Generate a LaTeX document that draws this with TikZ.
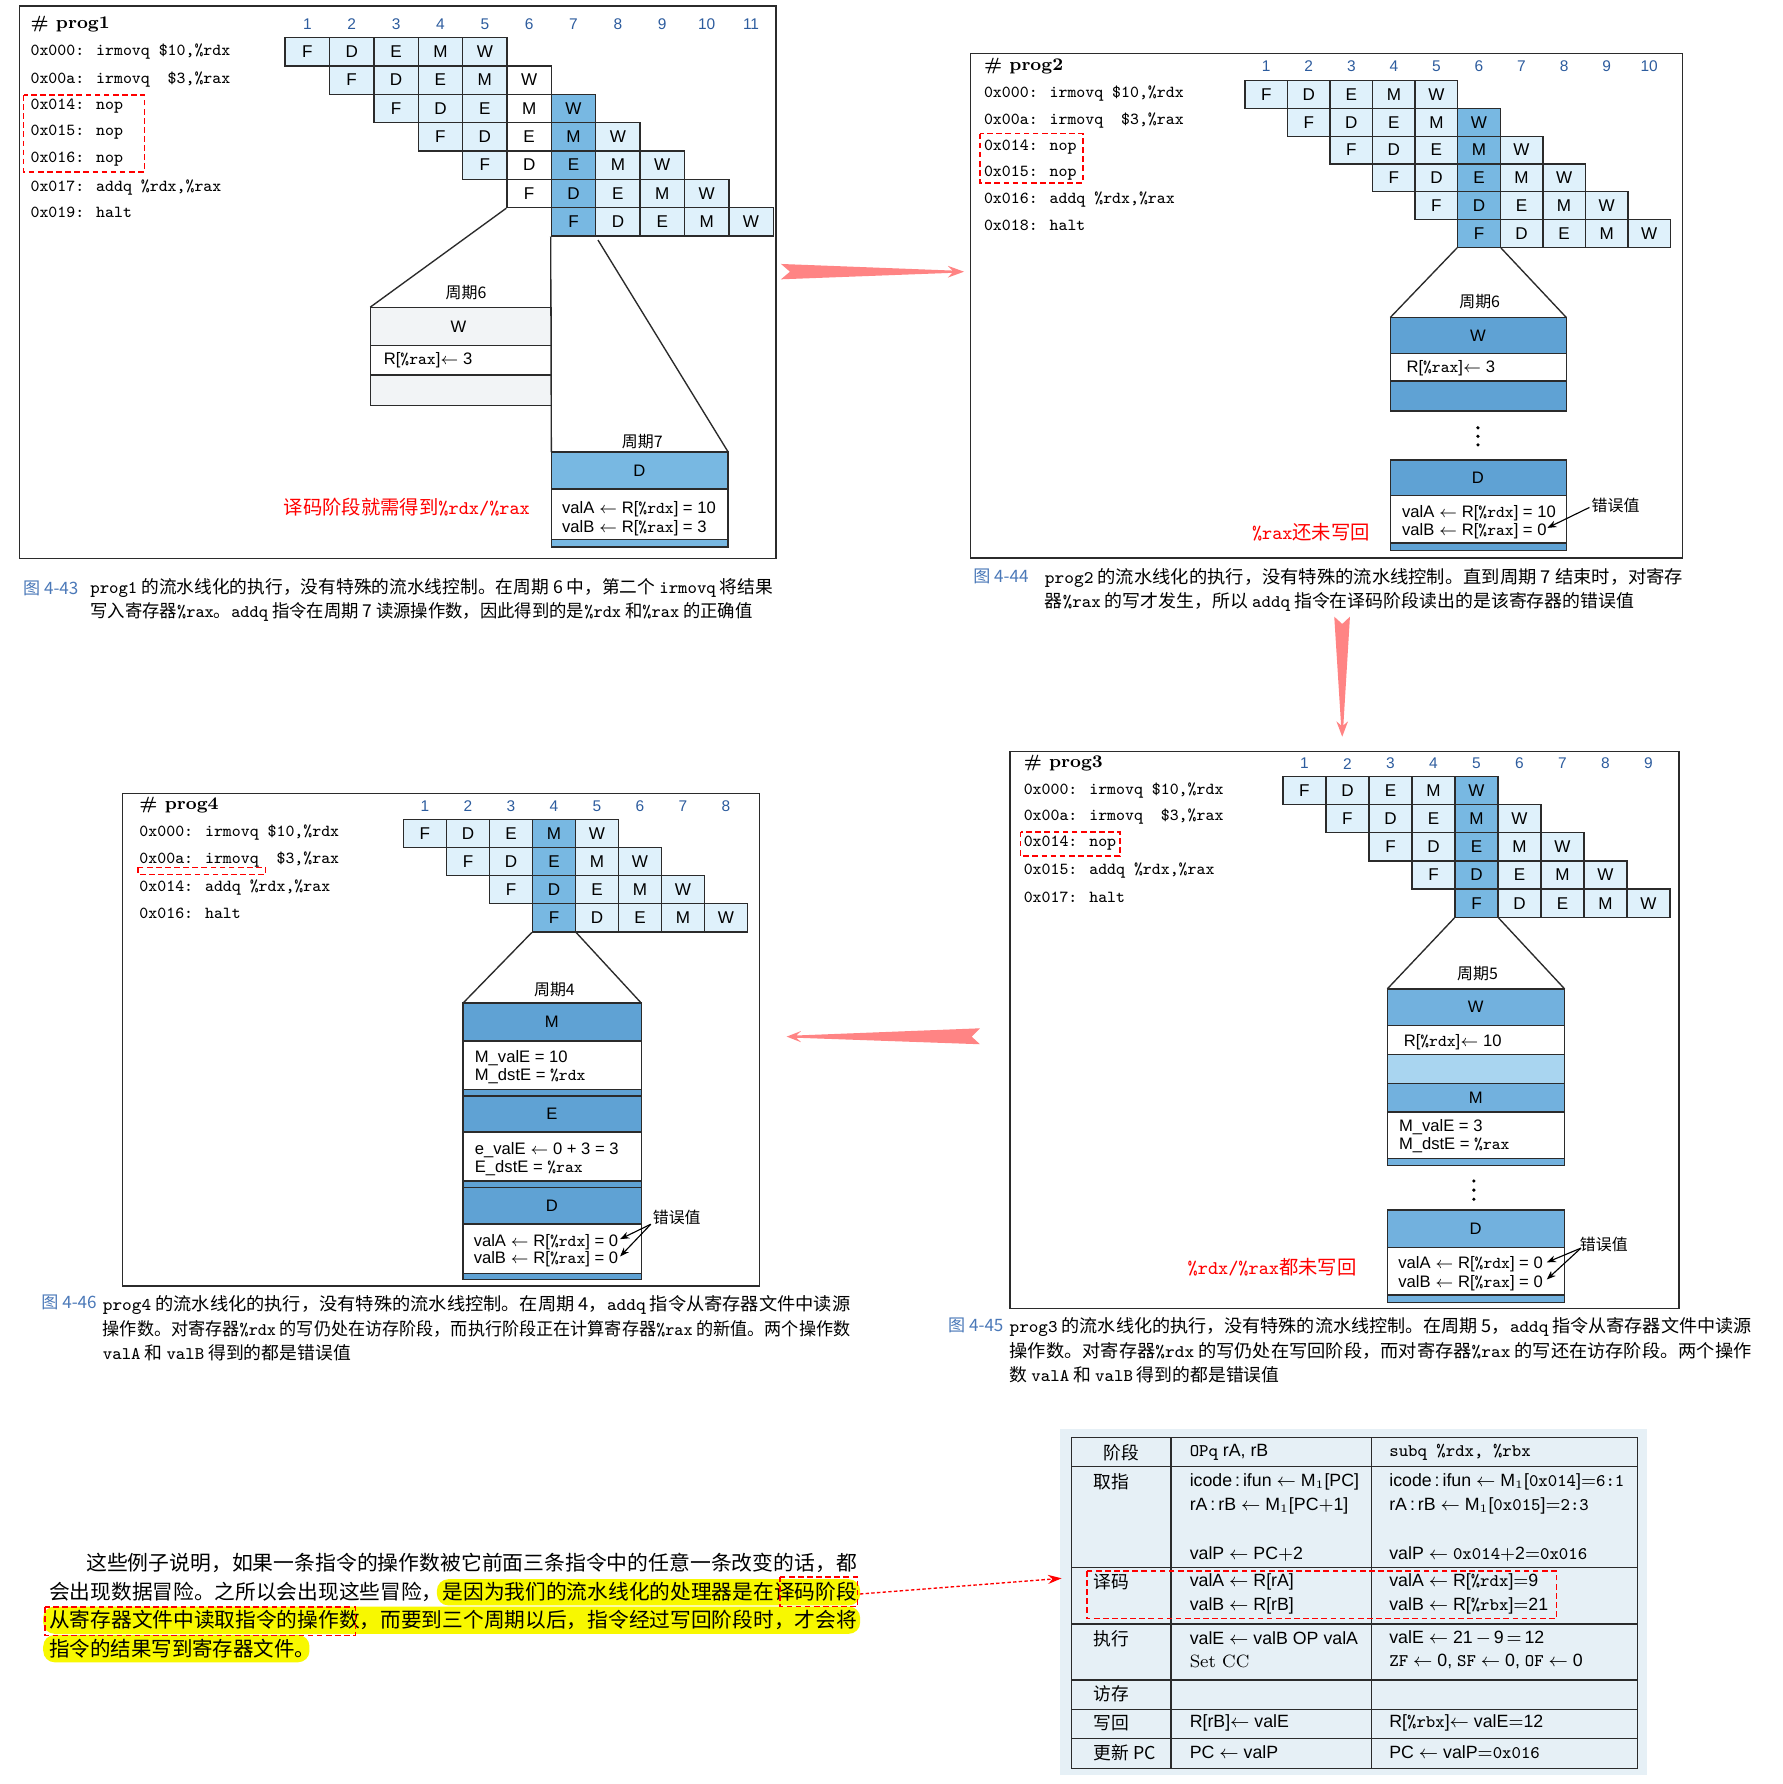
\documentclass[tikz,border=0pt]{standalone}
\usepackage{fontspec}
\usepackage{graphicx}
\setsansfont{Liberation Sans}
\newfontfamily\cjk{Noto Sans CJK SC}
\usetikzlibrary{arrows.meta}
\definecolor{cellblue}{HTML}{DFF1FB}
\definecolor{hiblue}{HTML}{78B8E2}
\definecolor{bandblue}{HTML}{5FA2D4}
\definecolor{bandmid}{HTML}{72B1DE}
\definecolor{bandlight}{HTML}{A9D5F0}
\definecolor{palegray}{HTML}{F2F4F6}
\definecolor{linec}{HTML}{2B2B2B}
\definecolor{numblue}{HTML}{2D5C9E}
\definecolor{figblue}{HTML}{4A78B8}
\definecolor{arrowpink}{HTML}{FF8484}
\definecolor{tablebg}{HTML}{E6F0F6}
\definecolor{hlyellow}{HTML}{F8F800}
\tikzset{
 cell/.style={draw=linec, line width=0.6pt, inner sep=0pt, font=\sffamily\fontsize{7.5}{9}\selectfont},
 cyc/.style={inner sep=0pt, font=\sffamily\fontsize{6.8}{8}\selectfont, text=numblue},
 code/.style={anchor=west, inner sep=0pt, font=\ttfamily\fontsize{7.4}{9}\selectfont},
 ptitle/.style={anchor=west, inner sep=0pt, font=\rmfamily\bfseries\fontsize{7.8}{9}\selectfont},
 frame/.style={draw=linec, line width=0.6pt},
 bline/.style={draw=linec, line width=0.6pt},
 lbl/.style={inner sep=0pt, font=\sffamily\fontsize{7.3}{9}\selectfont},
 lblw/.style={lbl, anchor=west},
 cyclbl/.style={inner sep=0pt, font=\cjk\fontsize{7}{8}\selectfont},
 errlbl/.style={inner sep=0pt, font=\cjk\fontsize{7}{8}\selectfont},
 redtxt/.style={anchor=west, inner sep=0pt, text=red, font=\cjk\fontsize{8.5}{10}\selectfont},
 reddash/.style={draw=red, line width=0.7pt, dash pattern=on 2.5pt off 1.5pt},
 figno/.style={anchor=west, inner sep=0pt, text=figblue, font=\cjk\fontsize{7.5}{9}\selectfont},
 capline/.style={anchor=west, inner sep=0pt, font=\cjk\fontsize{7.8}{9}\selectfont},
 para/.style={anchor=west, inner sep=0pt, font=\cjk\fontsize{9}{11}\selectfont},
 errarrow/.style={line width=0.5pt, -{Stealth[length=4pt,width=3pt]}},
 tt/.style={anchor=west, inner sep=0pt, font=\sffamily\fontsize{7.8}{9}\selectfont},
 tc/.style={anchor=west, inner sep=0pt, font=\cjk\fontsize{7.8}{9}\selectfont},
 tline/.style={draw=linec, line width=0.6pt},
}
\newcommand\pipegrid[8]{%
 \foreach \r in {1,...,#6}{%
  \foreach \s [count=\k] in {F,D,E,M,W}{%
   \pgfmathtruncatemacro\cc{\r+\k-1}%
   \ifnum\cc=#7\relax\def\fc{hiblue}\else\ifnum\cc=#8\relax\def\fc{white}\else\def\fc{cellblue}\fi\fi
   \node[cell,fill=\fc,minimum width=#4*0.5pt,minimum height=#5*0.5pt] (#1-\r-\cc) at ({#2+(\cc-0.5)*#4},{#3+(\r-0.5)*#5}) {\s};%
  }%
 }%
}
\newcommand\cycnums[5]{%
 \foreach \n in {1,...,#5}{\node[cyc] (#1-n\n) at ({#2+(\n-0.5)*#3},#4) {\n};}%
}
\newcommand\la{$\leftarrow$}
\newcommand\capfit[2]{\resizebox{#1}{\height}{#2}}
\begin{document}
\begin{tikzpicture}[x=0.5pt,y=-0.5pt]
\useasboundingbox (0,0) rectangle (1567,1568);
\fill[white] (0,0) rectangle (1567,1568);

% ================= prog1 =================
\draw[frame] (17,5.2) rectangle (682,490.7);
\node[ptitle] (t1) at (26.5,21) {\# prog1};
\node[code] (c1a) at (26.5,45.5) {0x000: irmovq \$10,\%rdx};
\node[code] (c1b) at (26.5,69.5) {0x00a: irmovq~~\$3,\%rax};
\node[code] (c1c) at (26.5,93.5) {0x014: nop};
\node[code] (c1d) at (26.5,116.5) {0x015: nop};
\node[code] (c1e) at (26.5,140) {0x016: nop};
\node[code] (c1f) at (26.5,164.5) {0x017: addq \%rdx,\%rax};
\node[code] (c1g) at (26.5,187) {0x019: halt};
\draw[reddash] (20.8,83.5) rectangle (127,151);
\cycnums{p1}{250.6}{39}{21.5}{11}
\pipegrid{p1}{250.6}{33}{39}{24.9}{7}{7}{6}
% cycle 6 box
\coordinate (e6tl) at (325.4,270);
\coordinate (e6tr) at (484.6,270);
\fill[palegray] (325.4,270) rectangle (484.6,303.4);
\fill[white] (325.4,303.4) rectangle (484.6,329.5);
\fill[palegray] (325.4,329.5) rectangle (484.6,356.6);
\draw[bline] (325.4,270) rectangle (484.6,356.6);
\draw[bline] (325.4,303.4) -- (484.6,303.4) (325.4,329.5) -- (484.6,329.5);
\draw[bline] (p1-6-6.south west) -- (e6tl);
\node[cyclbl] (z16) at (409.6,257) {周期6};
\node[lbl] (w16) at (403,287) {W};
\node[lblw] (r16) at (337,317) {R[{\ttfamily\%rax}]\la\ 3};
% cycle 7 box
\coordinate (e7tl) at (484.6,397.3);
\coordinate (e7tr) at (640,397.3);
\coordinate (r7s) at (525.6,211);
\fill[hiblue] (484.6,397.3) rectangle (640,429.9);
\fill[white] (484.6,429.9) rectangle (640,474.4);
\fill[hiblue] (484.6,474.4) rectangle (640,480.7);
\draw[bline] (484.6,397.3) rectangle (640,480.7);
\draw[bline] (484.6,429.9) -- (640,429.9) (484.6,474.4) -- (640,474.4);
\draw[bline] (p1-7-7.south west) -- (e7tl);
\draw[bline] (r7s) -- (e7tr);
\node[cyclbl] (z17) at (564.5,388) {周期7};
\node[lbl] (d17) at (562,413.6) {D};
\node[lblw] (va17) at (493.7,447.6) {valA \la\ R[{\ttfamily\%rdx}] = 10};
\node[lblw] (vb17) at (493.7,464) {valB \la\ R[{\ttfamily\%rax}] = 3};
\node[redtxt] (rt1) at (249,446) {译码阶段就需得到{\ttfamily\%rdx/\%rax}};
\node[figno] (f43) at (20,517) {图 4-43};
\node[capline] (c43a) at (79,517) {\capfit{300pt}{{\ttfamily prog1} 的流水线化的执行，没有特殊的流水线控制。在周期 6 中，第二个 {\ttfamily irmovq} 将结果}};
\node[capline] (c43b) at (79,538) {\capfit{291pt}{写入寄存器{\ttfamily\%rax}。{\ttfamily addq} 指令在周期 7 读源操作数，因此得到的是{\ttfamily\%rdx} 和{\ttfamily\%rax} 的正确值}};

% ================= prog2 =================
\draw[frame] (853,47.2) rectangle (1479,490.5);
\node[ptitle] (t2) at (864.5,58.5) {\# prog2};
\node[code] (c2a) at (864.5,82.5) {0x000: irmovq \$10,\%rdx};
\node[code] (c2b) at (864.5,105.5) {0x00a: irmovq~~\$3,\%rax};
\node[code] (c2c) at (864.5,129.5) {0x014: nop};
\node[code] (c2d) at (864.5,152.5) {0x015: nop};
\node[code] (c2e) at (864.5,175.5) {0x016: addq \%rdx,\%rax};
\node[code] (c2f) at (864.5,198.5) {0x018: halt};
\draw[reddash] (861.3,117.4) rectangle (951.7,160.7);
\cycnums{p2}{1094.2}{37.4}{58.5}{10}
\pipegrid{p2}{1094.2}{70.9}{37.4}{24.4}{6}{6}{0}
\coordinate (e26l) at (1222,279);
\coordinate (e26r) at (1376.6,279);
\draw[bline] (p2-6-6.south west) -- (e26l);
\draw[bline] (p2-6-6.south east) -- (e26r);
\fill[bandblue] (1222,279) rectangle (1376.6,310.9);
\fill[white] (1222,310.9) rectangle (1376.6,335);
\fill[bandblue] (1222,335) rectangle (1376.6,361.3);
\draw[bline] (1222,279) rectangle (1376.6,361.3);
\draw[bline] (1222,310.9) -- (1376.6,310.9) (1222,335) -- (1376.6,335);
\node[cyclbl] (z26) at (1300.5,265.4) {周期6};
\node[lbl] (w26) at (1299,295) {W};
\node[lblw] (r26) at (1235.8,323.9) {R[{\ttfamily\%rax}]\la\ 3};
\fill (1299,376) circle (0.8pt) (1299,383.5) circle (0.8pt) (1299,391) circle (0.8pt);
\fill[bandblue] (1222,404.3) rectangle (1376.6,435.7);
\fill[white] (1222,435.7) rectangle (1376.6,477.3);
\fill[bandblue] (1222,477.3) rectangle (1376.6,483.8);
\draw[bline] (1222,404.3) rectangle (1376.6,483.8);
\draw[bline] (1222,435.7) -- (1376.6,435.7) (1222,477.3) -- (1376.6,477.3);
\node[lbl] (d27) at (1299,420) {D};
\node[lblw] (va27) at (1232,451.4) {valA \la\ R[{\ttfamily\%rdx}] = 10};
\node[lblw] (vb27) at (1232,467) {valB \la\ R[{\ttfamily\%rax}] = 0};
\node[errlbl] (err2) at (1420,444) {错误值};
\coordinate (err2s) at (1397,446);
\coordinate (err2e) at (1360,464);
\draw[errarrow] (err2s) -- (err2e);
\node[redtxt] (rt2) at (1100,467.6) {{\ttfamily\%rax}还未写回};
\node[figno] (f44) at (855,507) {图 4-44};
\node[capline] (c44a) at (918,508) {\capfit{280.5pt}{{\ttfamily prog2} 的流水线化的执行，没有特殊的流水线控制。直到周期 7 结束时，对寄存}};
\node[capline] (c44b) at (918,529) {\capfit{259pt}{器{\ttfamily\%rax} 的写才发生，所以 {\ttfamily addq} 指令在译码阶段读出的是该寄存器的错误值}};

% ================= prog3 =================
\draw[frame] (887.6,660.4) rectangle (1475.8,1149.8);
\node[ptitle] (t3) at (899.4,670.8) {\# prog3};
\node[code] (c3a) at (899.4,694.5) {0x000: irmovq \$10,\%rdx};
\node[code] (c3b) at (899.4,717.8) {0x00a: irmovq~~\$3,\%rax};
\node[code] (c3c) at (899.4,741.2) {0x014: nop};
\node[code] (c3d) at (899.4,765.2) {0x015: addq \%rdx,\%rax};
\node[code] (c3e) at (899.4,788.5) {0x017: halt};
\draw[reddash] (897,731) rectangle (984.4,752.6);
\cycnums{p3}{1127.6}{37.8}{671.2}{9}
\pipegrid{p3}{1127.6}{682.3}{37.8}{24.8}{5}{5}{0}
\coordinate (e35l) at (1219.3,869.2);
\coordinate (e35r) at (1375.2,869.2);
\draw[bline] (p3-5-5.south west) -- (e35l);
\draw[bline] (p3-5-5.south east) -- (e35r);
\fill[bandmid] (1219.3,869.2) rectangle (1375.2,901.5);
\fill[white] (1219.3,901.5) rectangle (1375.2,926.6);
\fill[bandlight] (1219.3,926.6) rectangle (1375.2,952.5);
\fill[bandmid] (1219.3,952.5) rectangle (1375.2,977.5);
\fill[white] (1219.3,977.5) rectangle (1375.2,1018.1);
\fill[bandmid] (1219.3,1018.1) rectangle (1375.2,1024.2);
\draw[bline] (1219.3,869.2) rectangle (1375.2,1024.2);
\draw[bline] (1219.3,901.5) -- (1375.2,901.5) (1219.3,926.6) -- (1375.2,926.6) (1219.3,952.5) -- (1375.2,952.5) (1219.3,977.5) -- (1375.2,977.5) (1219.3,1018.1) -- (1375.2,1018.1);
\node[cyclbl] (z35) at (1298.6,855.6) {周期5};
\node[lbl] (w35) at (1297,885.3) {W};
\node[lblw] (r35) at (1233.4,915.8) {R[{\ttfamily\%rdx}]\la\ 10};
\node[lbl] (m35) at (1297,965) {M};
\node[lblw] (mv35) at (1229.2,990.5) {M\_valE = 3};
\node[lblw] (md35) at (1229.2,1006.6) {M\_dstE = {\ttfamily\%rax}};
\fill (1295.4,1038) circle (0.8pt) (1295.4,1046) circle (0.8pt) (1295.4,1054) circle (0.8pt);
\fill[bandmid] (1219.3,1063.6) rectangle (1375.2,1096.2);
\fill[white] (1219.3,1096.2) rectangle (1375.2,1138.3);
\fill[bandmid] (1219.3,1138.3) rectangle (1375.2,1144.6);
\draw[bline] (1219.3,1063.6) rectangle (1375.2,1144.6);
\draw[bline] (1219.3,1096.2) -- (1375.2,1096.2) (1219.3,1138.3) -- (1375.2,1138.3);
\node[lbl] (d35) at (1297,1080) {D};
\node[lblw] (va35) at (1228.7,1111.4) {valA \la\ R[{\ttfamily\%rdx}] = 0};
\node[lblw] (vb35) at (1228.7,1127.5) {valB \la\ R[{\ttfamily\%rax}] = 0};
\node[errlbl] (err3) at (1409.6,1093.4) {错误值};
\coordinate (err3s) at (1389.5,1097);
\coordinate (err3a) at (1359.5,1109.5);
\coordinate (err3b) at (1359.5,1124.6);
\draw[errarrow] (err3s) -- (err3a);
\draw[errarrow] (err3s) -- (err3b);
\node[redtxt] (rt3) at (1043.5,1113.8) {{\ttfamily\%rdx/\%rax}都未写回};
\node[figno] (f45) at (833,1165) {图 4-45};
\node[capline] (c45a) at (887,1166) {\capfit{326pt}{{\ttfamily prog3} 的流水线化的执行，没有特殊的流水线控制。在周期 5，{\ttfamily addq} 指令从寄存器文件中读源}};
\node[capline] (c45b) at (887,1187) {\capfit{326pt}{操作数。对寄存器{\ttfamily\%rdx} 的写仍处在写回阶段，而对寄存器{\ttfamily\%rax} 的写还在访存阶段。两个操作}};
\node[capline] (c45c) at (887,1208) {\capfit{118.6pt}{数 {\ttfamily valA} 和 {\ttfamily valB} 得到的都是错误值}};

% ================= prog4 =================
\draw[frame] (107.7,697.6) rectangle (667.4,1130.3);
\node[ptitle] (t4) at (122.2,707.4) {\# prog4};
\node[code] (c4a) at (122.2,732) {0x000: irmovq \$10,\%rdx};
\node[code] (c4b) at (122.2,755.5) {0x00a: irmovq~~\$3,\%rax};
\node[code] (c4c) at (122.2,779.8) {0x014: addq \%rdx,\%rax};
\node[code] (c4d) at (122.2,802.6) {0x016: halt};
\draw[reddash] (121.3,762.3) rectangle (233.4,768.6);
\cycnums{p4}{354.6}{37.8}{708.4}{8}
\pipegrid{p4}{354.6}{720.2}{37.8}{24.7}{4}{4}{0}
\coordinate (e44l) at (407,881.6);
\coordinate (e44r) at (563.6,881.6);
\draw[bline] (p4-4-4.south west) -- (e44l);
\draw[bline] (p4-4-4.south east) -- (e44r);
\fill[bandblue] (407,881.6) rectangle (563.6,914.9);
\fill[white] (407,914.9) rectangle (563.6,957.3);
\fill[bandblue] (407,957.3) rectangle (563.6,995);
\fill[white] (407,995) rectangle (563.6,1038);
\fill[bandblue] (407,1038) rectangle (563.6,1075.8);
\fill[white] (407,1075.8) rectangle (563.6,1119.4);
\fill[bandblue] (407,1119.4) rectangle (563.6,1124.5);
\draw[bline] (407,881.6) rectangle (563.6,1124.5);
\draw[bline] (407,914.9) -- (563.6,914.9) (407,957.3) -- (563.6,957.3) (407,963.3) -- (563.6,963.3) (407,995) -- (563.6,995) (407,1038) -- (563.6,1038) (407,1043.8) -- (563.6,1043.8) (407,1075.8) -- (563.6,1075.8) (407,1119.4) -- (563.6,1119.4);
\node[cyclbl] (z44) at (487.3,869.8) {周期4};
\node[lbl] (m44) at (485,898.3) {M};
\node[lblw] (mv44) at (417,930) {M\_valE = 10};
\node[lblw] (md44) at (417,945.5) {M\_dstE = {\ttfamily\%rdx}};
\node[lbl] (e44) at (485,979) {E};
\node[lblw] (ev44) at (417,1010.7) {e\_valE \la\ 0 + 3 = 3};
\node[lblw] (ed44) at (417,1026.9) {E\_dstE = {\ttfamily\%rax}};
\node[lbl] (d44) at (485,1059.8) {D};
\node[lblw] (va44) at (416,1091.6) {valA \la\ R[{\ttfamily\%rdx}] = 0};
\node[lblw] (vb44) at (416,1107) {valB \la\ R[{\ttfamily\%rax}] = 0};
\node[errlbl] (err4) at (594.8,1070) {错误值};
\coordinate (err4s) at (572,1076);
\coordinate (err4a) at (545,1089.1);
\coordinate (err4b) at (545,1104.3);
\draw[errarrow] (err4s) -- (err4a);
\draw[errarrow] (err4s) -- (err4b);
\node[figno] (f46) at (36,1145) {图 4-46};
\node[capline] (c46a) at (90,1147) {\capfit{328.5pt}{{\ttfamily prog4} 的流水线化的执行，没有特殊的流水线控制。在周期 4，{\ttfamily addq} 指令从寄存器文件中读源}};
\node[capline] (c46b) at (90,1168) {\capfit{328.5pt}{操作数。对寄存器{\ttfamily\%rdx} 的写仍处在访存阶段，而执行阶段正在计算寄存器{\ttfamily\%rax} 的新值。两个操作数}};
\node[capline] (c46c) at (90,1189) {\capfit{109pt}{{\ttfamily valA} 和 {\ttfamily valB} 得到的都是错误值}};

% ================= big arrows =================
\fill[arrowpink] (686.4,232) -- (837,237.8) -- (833,233.6) -- (847.3,238.8) -- (833,244) -- (837,239.8) -- (686.4,245.5) -- (694.3,238.8) -- cycle;
\fill[arrowpink] (1172.7,542) -- (1178.7,637.5) -- (1174.6,634) -- (1179.7,647.5) -- (1184.8,634) -- (1180.7,637.5) -- (1186.5,542) -- (1179.7,548.4) -- cycle;
\fill[arrowpink] (861.3,903.8) -- (700,910.1) -- (704,906.2) -- (691.4,911.1) -- (704,916) -- (700,912.1) -- (861.3,917.8) -- (854,911.1) -- cycle;

% ================= paragraph =================
\fill[hlyellow, rounded corners=5pt] (384,1388) rectangle (756,1411);
\fill[hlyellow, rounded corners=5pt] (38,1412) rectangle (756,1436);
\fill[hlyellow, rounded corners=5pt] (38,1437) rectangle (272,1461);
\node[para] (pa1) at (75.4,1374) {\capfit{338.7pt}{这些例子说明，如果一条指令的操作数被它前面三条指令中的任意一条改变的话，都}};
\node[para] (pa2) at (42.8,1399) {\capfit{355pt}{会出现数据冒险。之所以会出现这些冒险，是因为我们的流水线化的处理器是在译码阶段}};
\node[para] (pa3) at (42.8,1424) {\capfit{355pt}{从寄存器文件中读取指令的操作数，而要到三个周期以后，指令经过写回阶段时，才会将}};
\node[para] (pa4) at (42.8,1449) {指令的结果写到寄存器文件。};
\draw[reddash] (685.3,1385.8) rectangle (753.8,1411.8);
\draw[reddash] (39.3,1412.4) rectangle (312.6,1437.3);

% ================= table =================
\fill[tablebg] (932,1256) rectangle (1448,1560);
\draw[tline] (941.7,1263.3) rectangle (1439.1,1554.2);
\draw[tline] (1029.1,1263.3) -- (1029.1,1554.2) (1205.6,1263.3) -- (1205.6,1554.2);
\foreach \yy in {1289,1377.5,1427.3,1476.5,1502.3,1527.8} \draw[tline] (941.7,\yy) -- (1439.1,\yy);
\node[tc, anchor=center] (th1) at (985.3,1276.7) {阶段};
\node[tt] (th2) at (1045.3,1276.7) {{\ttfamily OPq} rA, rB};
\node[tt] (th3) at (1220.7,1276.7) {\ttfamily subq \%rdx, \%rbx};
\node[tc] (r1l) at (961,1302.2) {取指};
\node[tt] (r1a) at (1045.3,1302.2) {icode\,:\,ifun \la\ M$_1$[PC]};
\node[tt] (r1b) at (1045.3,1323.6) {rA\,:\,rB \la\ M$_1$[PC$+$1]};
\node[tt] (r1c) at (1045.3,1365.8) {valP \la\ PC$+$2};
\node[tt] (r1d) at (1220.7,1302.2) {icode\,:\,ifun \la\ M$_1$[{\ttfamily 0x014}]$=${\ttfamily 6:1}};
\node[tt] (r1e) at (1220.7,1323.6) {rA\,:\,rB \la\ M$_1$[{\ttfamily 0x015}]$=${\ttfamily 2:3}};
\node[tt] (r1f) at (1220.7,1365.8) {valP \la\ {\ttfamily 0x014}$+$2$=${\ttfamily 0x016}};
\node[tc] (r2l) at (961,1390.1) {译码};
\node[tt] (r2a) at (1045.3,1390.1) {valA \la\ R[rA]};
\node[tt] (r2b) at (1045.3,1411.2) {valB \la\ R[rB]};
\node[tt] (r2c) at (1220.7,1390.1) {valA \la\ R[{\ttfamily\%rdx}]$=$9};
\node[tt] (r2d) at (1220.7,1411.2) {valB \la\ R[{\ttfamily\%rbx}]$=$21};
\node[tc] (r3l) at (961,1439.9) {执行};
\node[tt] (r3a) at (1045.3,1439.9) {valE \la\ valB OP valA};
\node[tt] (r3b) at (1045.3,1460.4) {\rmfamily Set CC};
\node[tt] (r3c) at (1220.7,1439.9) {valE \la\ 21\,$-$\,9\,$=$\,12};
\node[tt] (r3d) at (1220.7,1460.4) {{\ttfamily ZF} \la\ 0, {\ttfamily SF} \la\ 0, {\ttfamily OF} \la\ 0};
\node[tc] (r4l) at (961,1488.3) {访存};
\node[tc] (r5l) at (961,1514.6) {写回};
\node[tt] (r5a) at (1045.3,1514.6) {R[rB]\la\ valE};
\node[tt] (r5b) at (1220.7,1514.6) {R[{\ttfamily\%rbx}]\la\ valE$=$12};
\node[tc] (r6l) at (961,1540.4) {更新 PC};
\node[tt] (r6a) at (1045.3,1540.4) {PC \la\ valP};
\node[tt] (r6b) at (1220.7,1540.4) {PC \la\ valP$=${\ttfamily 0x016}};
\draw[reddash] (955.2,1380.8) rectangle (1367.9,1422.6);
\coordinate (hlA) at (755.8,1401);
\coordinate (tblA) at (933.1,1387.2);
\draw[red, line width=0.6pt, dash pattern=on 1.5pt off 1pt, -{Stealth[length=6pt,width=4pt]}] (hlA) -- (tblA);
\end{tikzpicture}
\end{document}
